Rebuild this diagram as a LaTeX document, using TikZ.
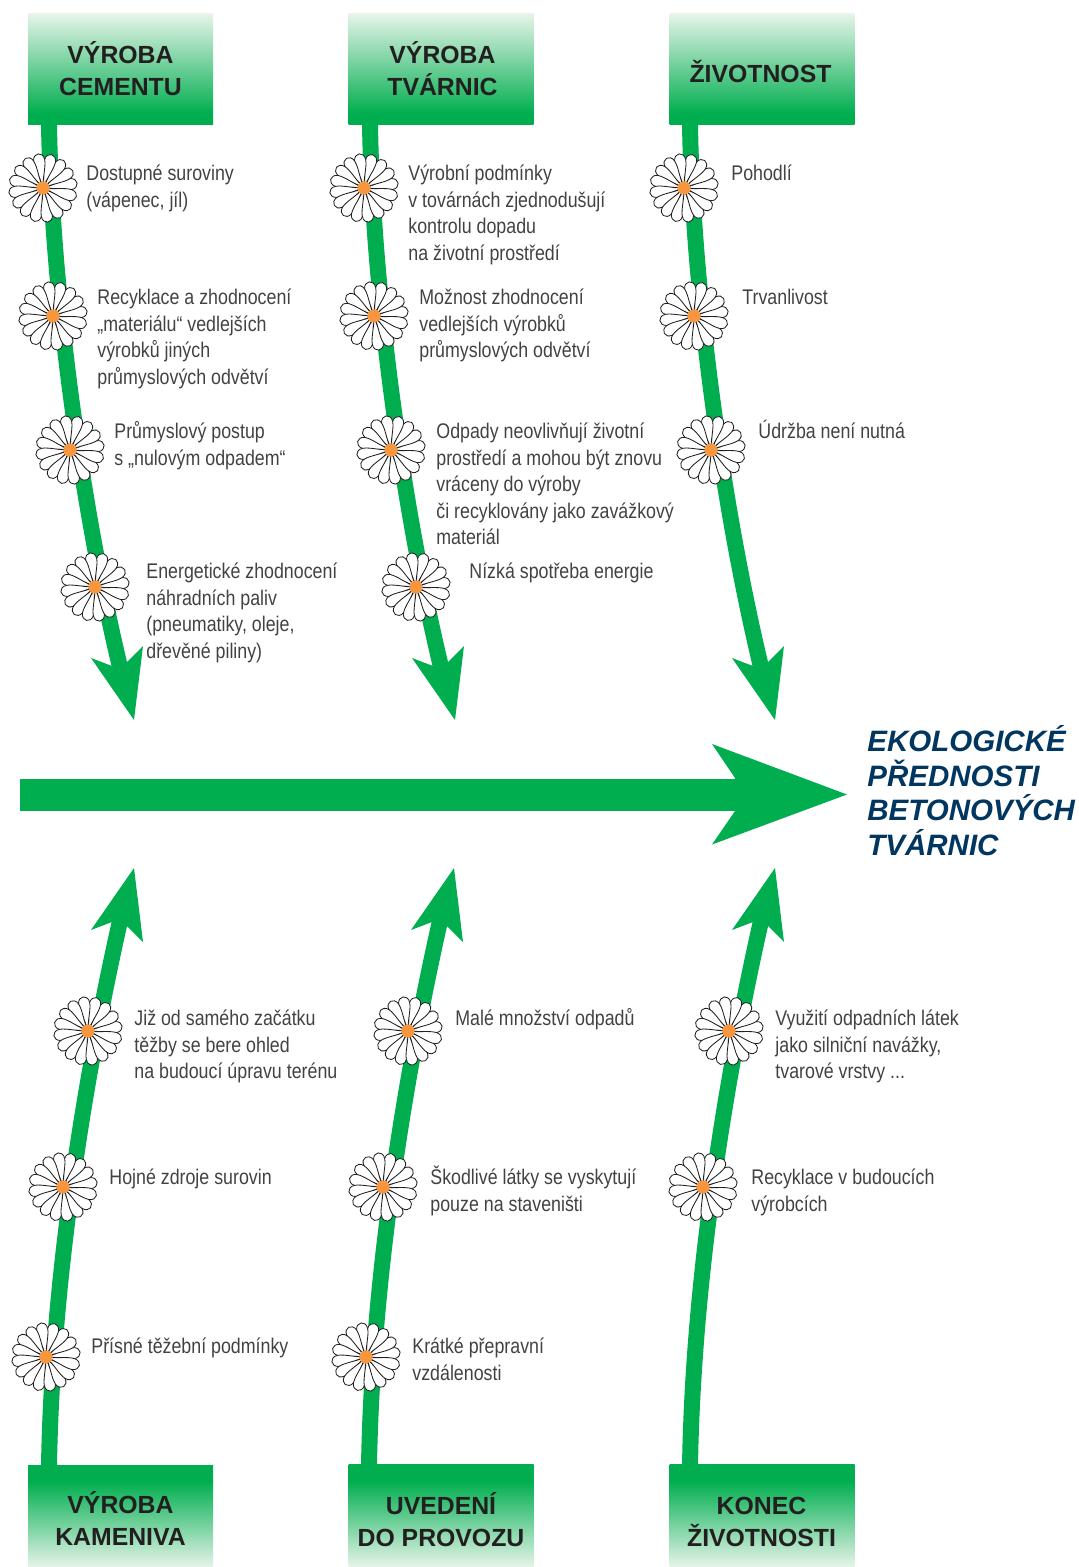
\documentclass[tikz,border=0pt]{standalone}
\usepackage{fontspec}
\setmainfont{Liberation Sans}
\newfontfamily\lblfont[FakeStretch=0.84]{Liberation Sans}
\definecolor{gr}{HTML}{00AE4F}
\definecolor{grl}{HTML}{E6F4E9}
\definecolor{navy}{HTML}{003660}
\definecolor{ora}{HTML}{F7963C}
\definecolor{ink}{HTML}{231F20}
\pgfdeclareverticalshading{boxdown}{100bp}{color(0bp)=(gr); color(30bp)=(gr); color(75bp)=(grl); color(100bp)=(grl)}
\pgfdeclareverticalshading{boxup}{100bp}{color(0bp)=(grl); color(25bp)=(grl); color(67bp)=(gr); color(100bp)=(gr)}
\tikzset{
  x=0.5pt,y=-0.5pt,
  box/.style={draw=none,inner sep=0pt,minimum width=92.5pt},
  boxt/.style={box,shading=boxdown,minimum height=55.5pt},
  boxb/.style={box,shading=boxup,minimum height=51pt},
  boxlbl/.style={inner sep=0pt,align=center,text=ink,
    font=\bfseries\fontsize{12.4}{16}\selectfont},
  shaft/.style={draw=gr,line width=8pt},
  head/.style={fill=gr,draw=none},
  lbl/.style={anchor=north west,inner sep=0pt,align=left,text=ink!85,
    font=\lblfont\fontsize{10.6}{13.25}\selectfont},
  petal/.style={fill=white,draw=ink,line width=0.42pt},
  eye/.style={circle,fill=ora,draw=none,inner sep=0pt,minimum size=6.6pt},
  title/.style={anchor=north west,inner sep=0pt,align=left,text=navy,
    font=\bfseries\itshape\fontsize{14.75}{17.25}\selectfont},
}
\newcommand{\flwr}[3]{%
  \begin{scope}[shift={(#2,#3)}]
    \foreach \a in {8,30.5,...,350}{
      \draw[petal,rotate=\a] (0,0) .. controls (10,-1) and (21,-6) .. (28,-5.6)
        .. controls (36.6,-5) and (36.6,5) .. (28,5.6)
        .. controls (21,6) and (10,1) .. (0,0);
    }
  \end{scope}
  \node[eye] (#1) at (#2,#3) {};
}
\newcommand{\lbl}[4]{\node[lbl] (#1) at (#2,#3-19) {\strut #4};}
\begin{document}
\begin{tikzpicture}
\useasboundingbox (0,0) rectangle (1079,1567);
% ---- arrows
\foreach \n/\dx in {A/0,B/321,C/641}{
  \coordinate (s\n) at (49+\dx,125);
  \coordinate (e\n) at (120+\dx,667);
  \draw[shaft] (s\n) .. controls +(3,175) and +(-36,-150) .. (e\n);
  \fill[head] (134+\dx,720) -- (91+\dx,658) -- (112+\dx,666) -- (127+\dx,662) -- (143+\dx,646) -- cycle;
}
\foreach \n/\dx in {D/0,E/320,F/641}{
  \coordinate (s\n) at (49+\dx,1466);
  \coordinate (e\n) at (120+\dx,921);
  \draw[shaft] (s\n) .. controls +(3,-185) and +(-36,160) .. (e\n);
  \fill[head] (134+\dx,868) -- (91+\dx,930) -- (112+\dx,922) -- (127+\dx,926) -- (143+\dx,942) -- cycle;
}
% ---- main arrow
\coordinate (mA) at (20,794.5);
\coordinate (mB) at (740,794.5);
\draw[draw=gr,line width=16pt] (mA) -- (mB);
\fill[head] (847,794.5) -- (712,744) -- (735,778) -- (735,811) -- (712,844.5) -- cycle;
% ---- boxes
\node[boxt] (bA) at (120.5,69.5) {};
\node[boxt] (bB) at (441,69.5) {};
\node[boxt] (bC) at (762,69.5) {};
\node[boxb] (bD) at (120.5,1516) {};
\node[boxb] (bE) at (441,1515.5) {};
\node[boxb] (bF) at (762,1515.5) {};
\node[boxlbl] (lA) at (120.5,69) {VÝROBA\\CEMENTU};
\node[boxlbl] (lB) at (442.5,69) {VÝROBA\\TVÁRNIC};
\node[boxlbl] (lC) at (760.5,72) {ŽIVOTNOST};
\node[boxlbl] (lD) at (120.5,1518.5) {VÝROBA\\KAMENIVA};
\node[boxlbl] (lE) at (441,1520) {UVEDENÍ\\DO PROVOZU};
\node[boxlbl] (lF) at (761.5,1521.5) {KONEC\\ŽIVOTNOSTI};
% ---- flowers
\flwr{f1}{43}{188}\flwr{f2}{53}{316}\flwr{f3}{70}{450}\flwr{f4}{95}{587}
\flwr{f5}{364}{188}\flwr{f6}{374}{316}\flwr{f7}{391}{450}\flwr{f8}{416}{587}
\flwr{f9}{684}{188}\flwr{f10}{694}{316}\flwr{f11}{711}{450}
\flwr{f12}{88}{1031}\flwr{f13}{63}{1187}\flwr{f14}{46}{1357}
\flwr{f15}{408}{1031}\flwr{f16}{383}{1187}\flwr{f17}{366}{1357}
\flwr{f18}{729}{1031}\flwr{f19}{703}{1187}
% ---- labels
\lbl{t1}{86}{181}{Dostupné suroviny\\(vápenec, jíl)}
\lbl{t2}{97}{305}{Recyklace a zhodnocení\\„materiálu“ vedlejších\\výrobků jiných\\průmyslových odvětví}
\lbl{t3}{114}{439}{Průmyslový postup\\s „nulovým odpadem“}
\lbl{t4}{146}{579}{Energetické zhodnocení\\náhradních paliv\\(pneumatiky, oleje,\\dřevěné piliny)}
\lbl{t5}{408}{181}{Výrobní podmínky\\v továrnách zjednodušují\\kontrolu dopadu\\na životní prostředí}
\lbl{t6}{419}{305}{Možnost zhodnocení\\vedlejších výrobků\\průmyslových odvětví}
\lbl{t7}{436}{439}{Odpady neovlivňují životní\\prostředí a mohou být znovu\\vráceny do výroby\\či recyklovány jako zavážkový\\materiál}
\lbl{t8}{469}{579}{Nízká spotřeba energie}
\lbl{t9}{731}{181}{Pohodlí}
\lbl{t10}{742}{305}{Trvanlivost}
\lbl{t11}{758}{439}{Údržba není nutná}
\lbl{t12}{134}{1026}{Již od samého začátku\\těžby se bere ohled\\na budoucí úpravu terénu}
\lbl{t13}{109}{1185}{Hojné zdroje surovin}
\lbl{t14}{91}{1354}{Přísné těžební podmínky}
\lbl{t15}{455}{1026}{Malé množství odpadů}
\lbl{t16}{430}{1185}{Škodlivé látky se vyskytují\\pouze na staveništi}
\lbl{t17}{412}{1354}{Krátké přepravní\\vzdálenosti}
\lbl{t18}{775}{1026}{Využití odpadních látek\\jako silniční navážky,\\tvarové vrstvy ...}
\lbl{t19}{751}{1185}{Recyklace v budoucích\\výrobcích}
% ---- title
\node[title] (ttl) at (867,725.5) {EKOLOGICKÉ\\PŘEDNOSTI\\BETONOVÝCH\\TVÁRNIC};
\end{tikzpicture}
\end{document}
